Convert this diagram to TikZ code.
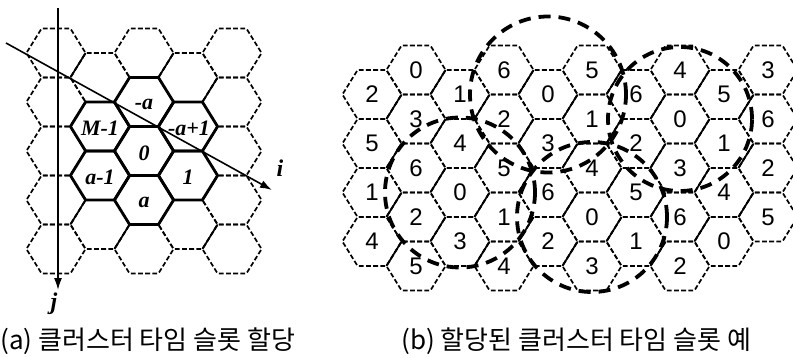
\documentclass[tikz,border=0pt]{standalone}
\usepackage{fontspec}
\setmainfont{Liberation Serif}
\setsansfont{Liberation Sans}
\newfontfamily\krfont{Noto Sans CJK KR}
\usetikzlibrary{arrows,arrows.meta,positioning}

% one hexagon cell, drawn from its centre; all six edges have the same length
\newcommand{\hexcell}{++(29.59,0) -- ++(-15.18,24.5) -- ++(-28.82,0) -- ++(-15.18,-24.5) -- ++(15.18,-24.5) -- ++(28.82,0) -- cycle}
% lower right edge of a cell
\newcommand{\lredge}{++(14.41,24.5) -- ++(15.18,-24.5)}

\begin{document}
\begin{tikzpicture}[x=0.5pt,y=-0.5pt]
        \tikzstyle{cellline}=[line width=0.85pt, dash pattern=on 2.4pt off 1.2025pt, dash phase=3.00125pt]
        \tikzstyle{joint}=[line width=0.85pt]
        \tikzstyle{core}=[line width=1.4pt, line join=round]
        \tikzstyle{slot}=[inner sep=0pt, font=\fontsize{11}{11}\selectfont\bfseries\itshape]
        \tikzstyle{num}=[inner sep=0pt, font=\sffamily\fontsize{12}{12}\selectfont]
        \tikzstyle{cluster}=[line width=1.9pt, dash pattern=on 6pt off 4pt]
        \tikzstyle{axis}=[-{Latex[length=6pt,width=4pt]}, line width=0.8pt]
        \tikzstyle{caption}=[inner sep=0pt, anchor=west, font=\krfont\fontsize{13}{13}\selectfont]
        \useasboundingbox (0,0) rectangle (793,358);

        % (a) cell grid
        \foreach \c in {0,2,4}
          \foreach \r in {0,...,4}
            \draw[cellline] (56+44*\c,53+49*\r) \hexcell;
        \foreach \c in {1,3}
          \foreach \r in {0,...,3}
            \draw[cellline] (56+44*\c,77.5+49*\r) \hexcell;
        \foreach \c in {0,2}
          \foreach \r in {0,...,3}
            \draw[joint] (56+44*\c,53+49*\r) \lredge;
        \foreach \c in {1,3}
          \foreach \r in {0,...,3}
            \draw[joint] (56+44*\c,77.5+49*\r) \lredge;
        \foreach \x/\y in {144/102,144/151,144/200,100/126.5,100/175.5,188/126.5,188/175.5}
            \draw[core] (\x,\y) \hexcell;
        \node[slot] (na) at (144,104) {-a};
        \node[slot] (m1) at (100,128) {M-1};
        \node[slot] (na1) at (189,128) {-a+1};
        \node[slot] (s0) at (144,153) {0};
        \node[slot] (a1) at (100,177) {a-1};
        \node[slot] (s1) at (188,177) {1};
        \node[slot] (a) at (144,202) {a};

        % (a) axes
        \coordinate (jtop) at (58,8);
        \coordinate (jend) at (58,290);
        \node[slot, font=\fontsize{12}{12}\selectfont\bfseries\itshape] (j) at (54,304) {j};
        \coordinate (itop) at (6,43);
        \coordinate (iend) at (272,190);
        \node[slot, font=\fontsize{12}{12}\selectfont\bfseries\itshape] (i) at (280,168) {i};
        \draw[axis] (jtop) -- (jend);
        \draw[axis] (itop) -- (iend);

        % (b) cell grid
        \foreach \c in {1,3,5,7}
          \foreach \r in {0,...,4}
            \draw[cellline] (372+44*\c,70+49*\r) \hexcell;
        \foreach \r in {0,...,3}
            \draw[cellline] (768,70+49*\r) \hexcell;
        \foreach \c in {0,2,4,6,8}
          \foreach \r in {0,...,3}
            \draw[cellline] (372+44*\c,94.5+49*\r) \hexcell;
        \foreach \c in {1,3,5,7}
          \foreach \r in {0,...,3}
            \draw[joint] (372+44*\c,70+49*\r) \lredge;
        \foreach \c in {0,2,4,6}
          \foreach \r in {0,...,3}
            \draw[joint] (372+44*\c,94.5+49*\r) \lredge;
        \foreach \r in {0,...,2}
            \draw[joint] (724,94.5+49*\r) \lredge;

        % (b) time slots
        \foreach \c/\col in {0/{2,5,1,4},2/{1,4,0,3},4/{0,3,6,2},6/{6,2,5,1},8/{5,1,4,0}}
          \foreach \l [count=\r from 0] in \col
            \node[num] (b\c-\r) at (372+44*\c,94.5+49*\r) {\l};
        \foreach \c/\col in {1/{0,3,6,2,5},3/{6,2,5,1,4},5/{5,1,4,0,3},7/{4,0,3,6,2},9/{3,6,2,5}}
          \foreach \l [count=\r from 0] in \col
            \node[num] (b\c-\r) at (372+44*\c,70+49*\r) {\l};

        % (b) clusters
        \draw[cluster] (b2-2.center) circle[radius=37.5pt];
        \draw[cluster] (b4-0.center) circle[radius=39pt];
        \draw[cluster] (b5-3.center) circle[radius=37.5pt];
        \draw[cluster] (b7-1.center) circle[radius=36pt];

        % captions
        \node[caption] (capa) at (0,341) {(a) 클러스터 타임 슬롯 할당};
        \node[caption] (capb) at (401,341) {(b) 할당된 클러스터 타임 슬롯 예};
      \end{tikzpicture}
\end{document}
